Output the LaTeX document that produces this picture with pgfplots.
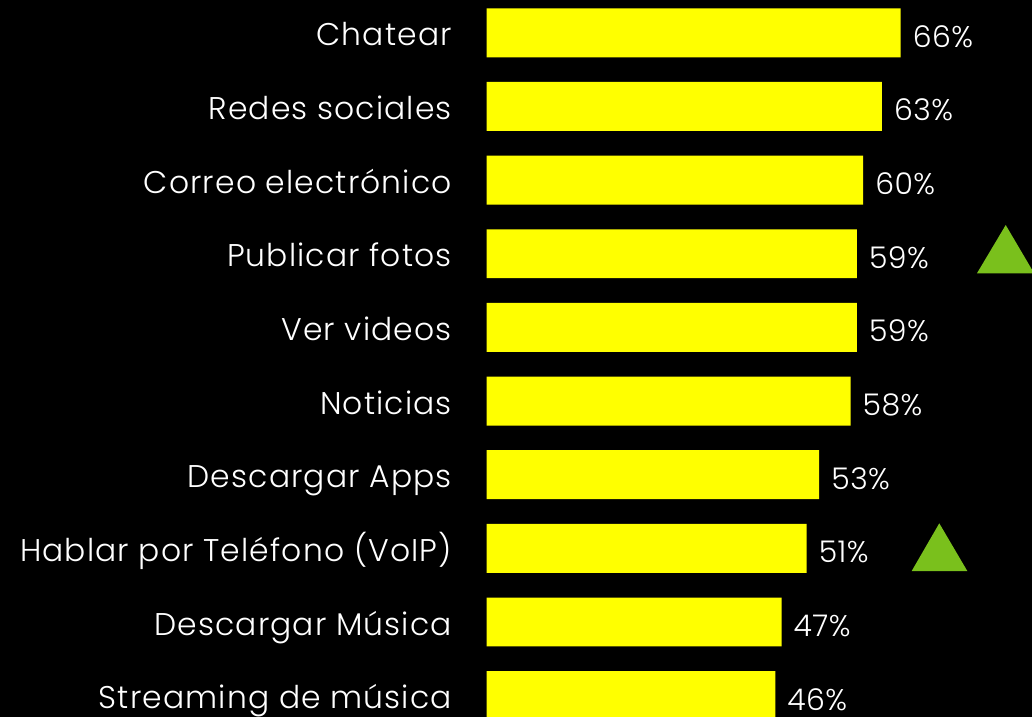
\documentclass[border=0pt]{standalone}
\usepackage{pgfplots}
\pgfplotsset{compat=1.18}
\usepackage{fontspec}
\setmainfont{Poppins Light}[LetterSpace=3.6]
\newfontfamily\valfont{Poppins Light}[LetterSpace=1.5]
\definecolor{baryellow}{RGB}{255,255,0}
\definecolor{trigreen}{RGB}{122,192,28}
\begin{document}
\begin{tikzpicture}
\useasboundingbox (0,0) rectangle (1032bp,717bp);
\fill[black] (0,0) rectangle (1032bp,717bp);
\begin{axis}[
  at={(486.7bp,0bp)}, anchor=south west,
  scale only axis, width=545.3bp, height=717bp,
  xmin=0, xmax=86.93, ymin=-0.4453, ymax=9.290, y dir=reverse,
  axis line style={draw=none}, tick style={draw=none}, major tick length=0pt,
  xtick=\empty,
  ytick={0,...,9},
  yticklabels={Chatear,Redes sociales,Correo electrónico,Publicar fotos,Ver videos,Noticias,Descargar Apps,Hablar por Teléfono (VoIP),Descargar Música,Streaming de música},
  yticklabel style={font=\fontsize{31.5}{36}\selectfont, text=white, inner sep=0pt, anchor=base east, xshift=-34.7bp, yshift=-13bp},
  /pgf/number format/assume math mode=true,
  clip=true,
]
\addplot[xbar, bar width=0.665, fill=baryellow, draw=none,
  nodes near coords={\pgfmathprintnumber{\pgfplotspointmeta}\%},
  nodes near coords style={font=\valfont\fontsize{30}{34}\selectfont, text=white, inner sep=0pt, anchor=base west, xshift=12bp, yshift=-14.5bp},
] coordinates {(66,0) (63,1) (60,2) (59,3) (59,4) (58,5) (53,6) (51,7) (47,8) (46,9)};
\addplot[fill=trigreen, draw=none] coordinates {(78.16,3.265) (87.27,3.265) (82.74,2.610)} -- cycle;
\addplot[fill=trigreen, draw=none] coordinates {(67.75,7.308) (76.62,7.308) (72.15,6.660)} -- cycle;
\end{axis}
\end{tikzpicture}
\end{document}
